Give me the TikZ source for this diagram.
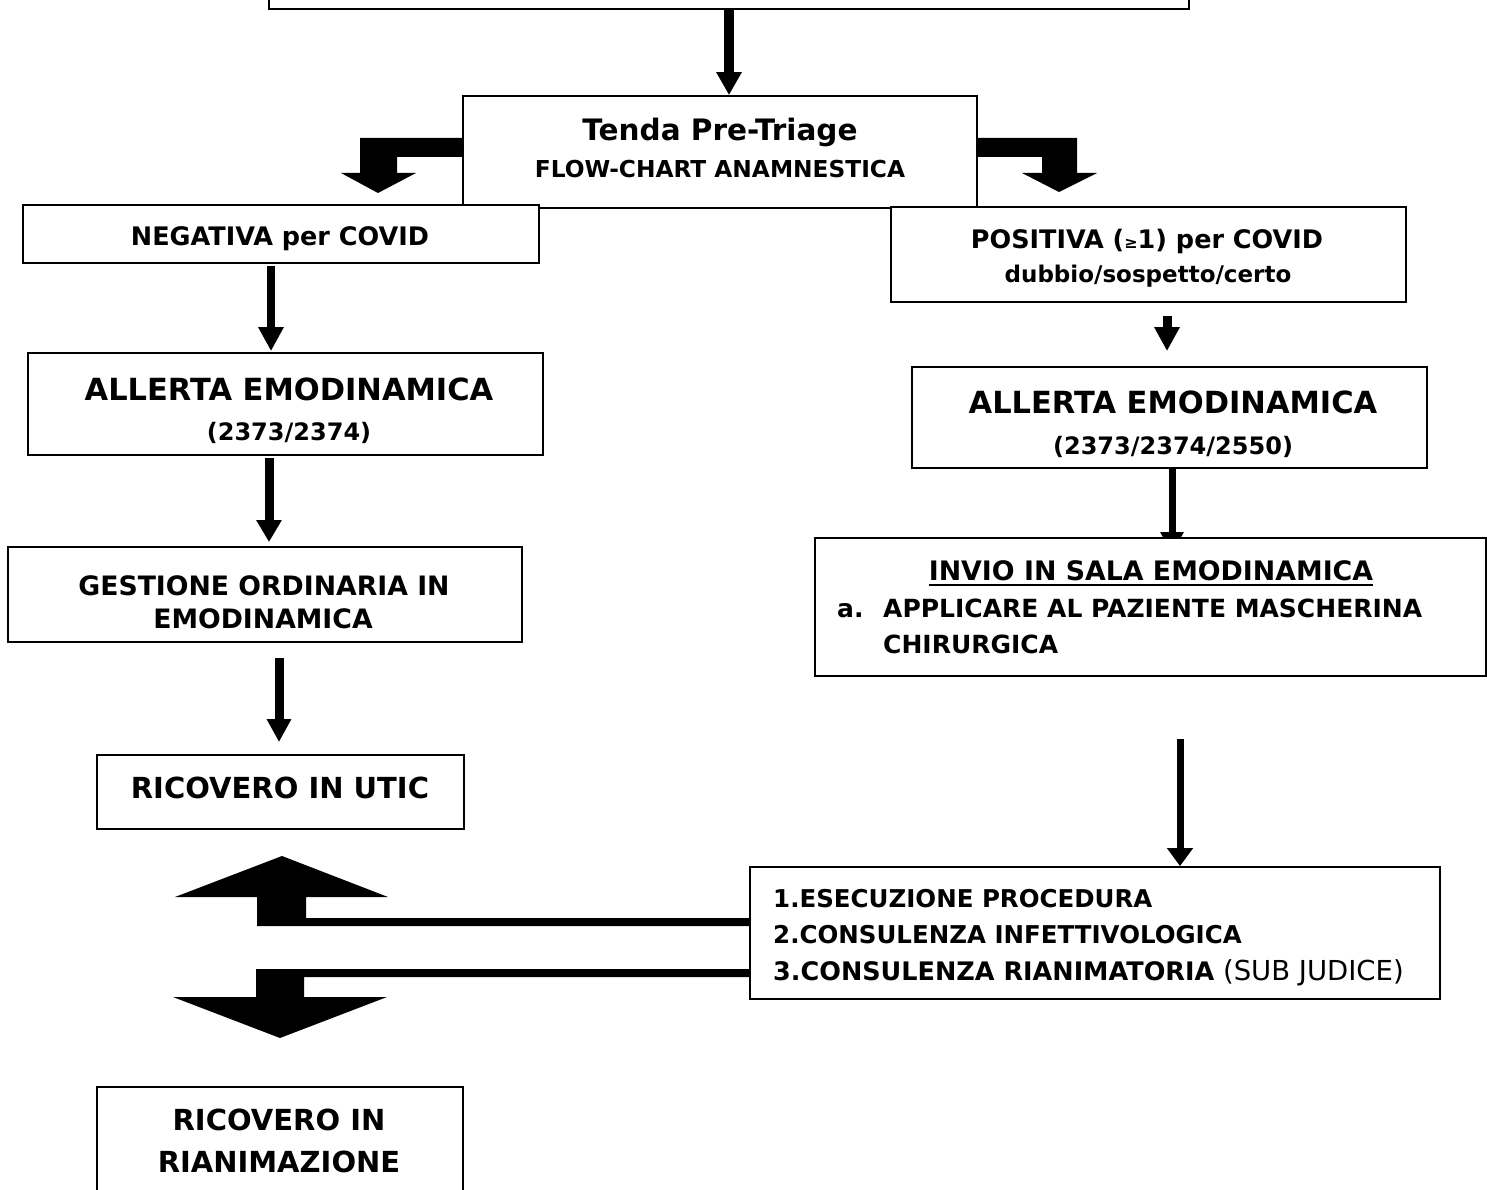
\documentclass[tikz,border=0pt]{standalone}
\usepackage{fontspec}
\setmainfont{DejaVu Sans}
\usetikzlibrary{arrows.meta,fit}
\pgfdeclarelayer{bgl}
\pgfdeclarelayer{arl}
\pgfsetlayers{bgl,arl,main}
\newcommand{\fs}[1]{\fontsize{#1}{#1}\selectfont\bfseries}
\begin{document}
\begin{tikzpicture}[x=1pt,y=-1pt,
  box/.style={draw, line width=1.8pt, fill=white, inner sep=0pt},
  txt/.style={inner sep=0pt, anchor=base},
  ltxt/.style={inner sep=0pt, anchor=base west},
  arr/.style={line width=8pt, -{Triangle[width=24pt,length=24pt]}},
  blk/.style={fill=black}]
\begin{pgfonlayer}{bgl}
\fill[white] (0,0) rectangle (1487,1190);
\end{pgfonlayer}
\useasboundingbox (0,0) rectangle (1487,1190);

% boxes
\node[box, fit={(269,-30) (1189,9)}] (top) {};
\node[box, fit={(463,96) (977,208)}] (pt) {};
\node[box, fit={(23,205) (539,263)}] (neg) {};
\node[box, fit={(891,207) (1406,302)}] (pos) {};
\node[box, fit={(28,353) (543,455)}] (all) {};
\node[box, fit={(912,367) (1427,468)}] (alr) {};
\node[box, fit={(8,547) (522,642)}] (ges) {};
\node[box, fit={(815,538) (1486,676)}] (invio) {};
\node[box, fit={(97,755) (464,829)}] (utic) {};
\node[box, fit={(750,867) (1440,999)}] (box3) {};
\node[box, fit={(97,1087) (463,1200)}] (rian) {};

% texts
\node[txt, font=\fs{29.5}] (t1) at (720,141) {Tenda Pre-Triage};
\node[txt, font=\fs{23.3}] (t2) at (720,178) {FLOW-CHART ANAMNESTICA};
\node[txt, font=\fs{25.5}] (tneg) at (280,245) {NEGATIVA per COVID};
\node[txt, font=\fs{25.5}] (tpos1) at (1147,248) {POSITIVA ({\fontsize{16}{16}\selectfont ≥}1) per COVID};
\node[txt, font=\fs{23}] (tpos2) at (1148,282) {dubbio/sospetto/certo};
\node[txt, font=\fs{30.5}] (tall1) at (289,400) {ALLERTA EMODINAMICA};
\node[txt, font=\fs{24}] (tall2) at (289,440) {(2373/2374)};
\node[txt, font=\fs{30.5}] (talr1) at (1173,413) {ALLERTA EMODINAMICA};
\node[txt, font=\fs{24}] (talr2) at (1173,454) {(2373/2374/2550)};
\node[txt, font=\fs{26.7}] (tges1) at (264,595) {GESTIONE ORDINARIA IN};
\node[txt, font=\fs{26.7}] (tges2) at (263,628) {EMODINAMICA};
\node[txt, font=\fs{29}] (tutic) at (280,798) {RICOVERO IN UTIC};
\node[txt, font=\fs{29}] (trian1) at (279,1130) {RICOVERO IN};
\node[txt, font=\fs{29}] (trian2) at (279,1172) {RIANIMAZIONE};
\node[txt, font=\fs{26.8}] (tinv) at (1151,580) {INVIO IN SALA EMODINAMICA};
\draw[line width=1.8pt] ([yshift=-5pt]tinv.base west) -- ([yshift=-5pt]tinv.base east);
\node[ltxt, font=\fs{25}] (tina) at (837,617) {a.};
\node[ltxt, font=\fs{25}] (tinb) at (883,617) {APPLICARE AL PAZIENTE MASCHERINA};
\node[ltxt, font=\fs{25}] (tinc) at (883,653) {CHIRURGICA};
\node[ltxt, font=\fs{24.5}] (tb1) at (773,907) {1.ESECUZIONE PROCEDURA};
\node[ltxt, font=\fs{24.5}] (tb2) at (773,943) {2.CONSULENZA INFETTIVOLOGICA};
\node[ltxt, font=\fs{25.5}] (tb3) at (773,980) {3.CONSULENZA RIANIMATORIA{\mdseries\fontsize{27.5}{27.5}\selectfont\ (SUB JUDICE)}};

% connectors
\begin{pgfonlayer}{arl}
\draw[arr, line width=10pt, -{Triangle[width=24pt,length=23pt]}] (top.south) -- (top.south |- pt.north);
\draw[arr] ([xshift=-10pt, yshift=-2pt]neg.south) -- ([xshift=-10pt, yshift=1pt]neg.south |- all.north);
\draw[arr, line width=9pt, -{Triangle[width=24pt,length=22pt]}] ([xshift=-16.5pt, yshift=-2pt]all.south) -- ([xshift=-16.5pt, yshift=4pt]all.south |- ges.north);
\draw[arr, line width=9pt, -{Triangle[width=23pt,length=23pt]}] ([xshift=14pt, yshift=-15pt]ges.south) -- ([xshift=14pt, yshift=12pt]ges.south |- utic.north);
\draw[arr, line width=9pt] ([xshift=18.5pt, yshift=-13pt]pos.south) -- ([xshift=18.5pt, yshift=15pt]pos.south |- alr.north);
\draw[arr, line width=7pt, -{Triangle[width=22pt,length=22pt]}] ([xshift=2.5pt]alr.south) -- ([xshift=2.5pt, yshift=-17pt]alr.south |- invio.north);
\draw[arr, line width=7pt, -{Triangle[width=25pt,length=18pt]}] ([xshift=29.5pt, yshift=-62pt]invio.south) -- ([xshift=29.5pt]invio.south |- box3.north);
\end{pgfonlayer}

% block arrows
\fill[blk] (pt.west |- 0,138) -- (360,138) -- (360,173) -- (341,173) -- (378,193) -- (416,173) -- (397,173) -- (397,157) -- (pt.west |- 0,157) -- cycle;
\fill[blk] (pt.east |- 0,138) -- (1077,138) -- (1077,173) -- (1097,173) -- (1059,192) -- (1022,173) -- (1042,173) -- (1042,157) -- (pt.east |- 0,157) -- cycle;
\fill[blk] (box3.west |- 0,918) -- (306,918) -- (306,897) -- (388,897) -- (282,856) -- (175,897) -- (257,897) -- (257,926) -- (box3.west |- 0,926) -- cycle;
\fill[blk] (box3.west |- 0,969) -- (256,969) -- (256,997) -- (173,997) -- (280,1038) -- (387,997) -- (304,997) -- (304,977) -- (box3.west |- 0,977) -- cycle;
\end{tikzpicture}
\end{document}
